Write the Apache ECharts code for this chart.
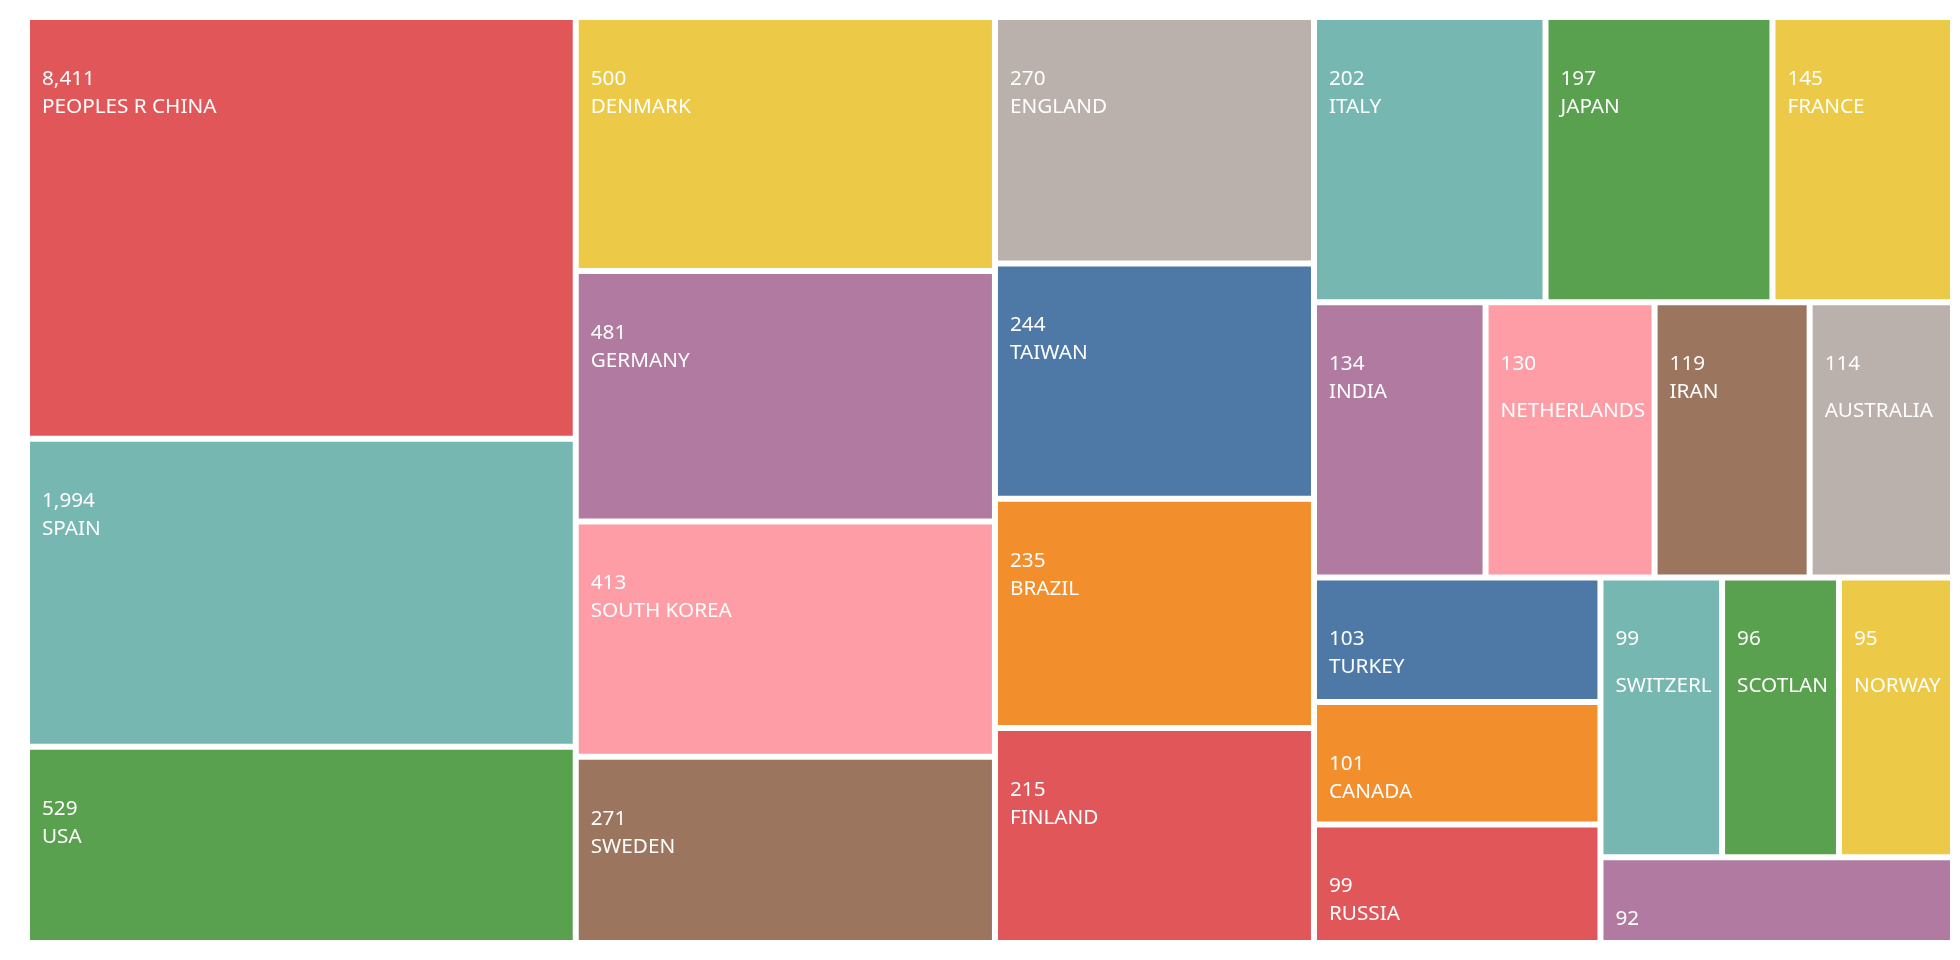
<!DOCTYPE html>
<html><head><meta charset="utf-8">
<script src="https://cdn.jsdelivr.net/npm/echarts@6/dist/echarts.min.js"></script>
<style>html,body{margin:0;padding:0;background:#fff}#c{width:1960px;height:960px}</style></head>
<body><div id="c"></div>
<script>
const countries = ['PEOPLES R CHINA','SPAIN','USA','DENMARK','GERMANY','SOUTH KOREA','SWEDEN','ENGLAND','TAIWAN','BRAZIL','FINLAND','ITALY','JAPAN','FRANCE','INDIA','NETHERLANDS','IRAN','AUSTRALIA','TURKEY','CANADA','RUSSIA','SWITZERLAND','SCOTLAND','NORWAY','POLAND'];
const counts = [8411,1994,529,500,481,413,271,270,244,235,215,202,197,145,134,130,119,114,103,101,99,99,96,95,92];
// tile sizes (area measure)
const sizes = [2292,1674,1067,1055,1040,977,773,779,743,725,679,654,641,510,468,461,423,391,353,348,336,337,324,316,299];
const palette = ['#e15759','#76b7b2','#59a14f','#edc948','#b07aa1','#ff9da7','#9c755f','#bab0ac','#4e79a7','#f28e2c'];

const FONT = 'Noto Sans';
const FS = 20.7;
const data = countries.map((n, i) => ({ name: n, value: sizes[i], count: counts[i] }));
const wrapped = new Set();
function fmt(p) {
  const c = p.data.count.toLocaleString('en-US');
  return wrapped.has(p.name) ? '{v|' + c + '}\n{s| }\n{v|' + p.name + '}' : '{v|' + c + '}\n{v|' + p.name + '}';
}
const chart = echarts.init(document.getElementById('c'), null, { renderer: 'canvas' });
chart.setOption({
  animation: false,
  series: [{
    type: 'treemap',
    left: 30, top: 20, width: 1920, height: 920,
    sort: false,
    roam: false, nodeClick: false,
    breadcrumb: { show: false },
    label: {
      show: true, position: 'insideTopLeft', distance: 0, padding: [45, 0, 0, 12],
      color: '#fff', fontFamily: FONT, fontSize: FS, lineHeight: 28,
      overflow: 'truncate', ellipsis: '', lineOverflow: 'none',
      formatter: fmt,
      rich: {
        v: { color: '#fff', fontFamily: FONT, fontSize: FS, lineHeight: 28 },
        s: { fontSize: 2, lineHeight: 19 }
      }
    },
    itemStyle: { borderWidth: 0, gapWidth: 6, borderColor: '#fff' },
    levels: [{ color: palette, itemStyle: { borderWidth: 0, gapWidth: 6 } }],
    data: data
  }]
});
try {
  const ctx = document.createElement('canvas').getContext('2d');
  ctx.font = FS + 'px "' + FONT + '"';
  const tree = chart.getModel().getSeriesByIndex(0).getData().tree;
  tree.root.children.forEach(n => {
    const lay = n.getLayout();
    if (lay && ctx.measureText(n.name).width > lay.width - 40) wrapped.add(n.name);
  });
  chart.setOption({ series: [{ label: { formatter: fmt } }] });
} catch (e) { console.log(e); }
</script></body></html>
